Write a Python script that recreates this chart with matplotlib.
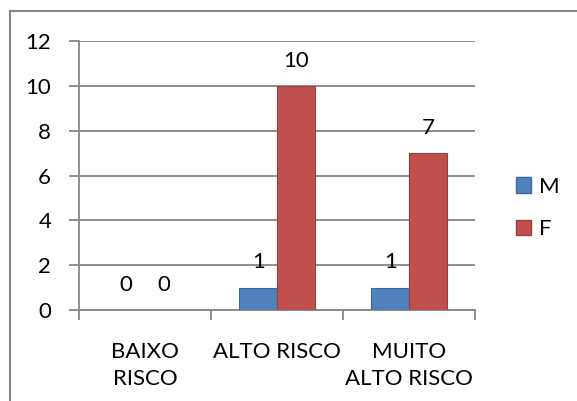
import matplotlib
matplotlib.use("Agg")
import matplotlib.pyplot as plt
from matplotlib.lines import Line2D
from matplotlib.patches import Patch
import numpy as np

categories = ["BAIXO\nRISCO", "ALTO RISCO", "MUITO\nALTO RISCO"]
series_names = ["M", "F"]
m_values = [0, 1, 1]
f_values = [0, 10, 7]
y_ticks = [0, 2, 4, 6, 8, 10, 12]

W, H = 577, 401
fig = plt.figure(figsize=(W / 100, H / 100), dpi=100)
plt.rcParams['font.family'] = ['Lato', 'DejaVu Sans']
FS = 16

# plot area: x 79..475, y 41..310 (pixels from top)
ax = fig.add_axes([79 / W, 1 - 310 / H, (475 - 79) / W, (310 - 41) / H])

x = np.arange(len(categories))
bw = 0.285
blue, blue_e = "#4F81BD", "#3A679C"
red, red_e = "#C0504D", "#963F3C"
ax.bar(x - bw / 2, m_values, bw, color=blue, edgecolor=blue_e, linewidth=0.8, zorder=3,
       label=series_names[0])
ax.bar(x + bw / 2, f_values, bw, color=red, edgecolor=red_e, linewidth=0.8, zorder=3,
       label=series_names[1])

for xi, v in zip(x, m_values):
    ax.text(xi - bw / 2, v + 0.68, str(v), ha="center", va="bottom", fontsize=FS, zorder=4)
for xi, v in zip(x, f_values):
    ax.text(xi + bw / 2, v + 0.68, str(v), ha="center", va="bottom", fontsize=FS, zorder=4)

ax.set_xlim(-0.5, len(categories) - 0.5)
ax.set_ylim(0, 12)
ax.set_yticks(y_ticks)
ax.set_yticklabels([str(t) for t in y_ticks], fontsize=FS)
ax.yaxis.grid(True, color="#868686", linewidth=1.3, zorder=0)
ax.set_axisbelow(True)

ax.set_xticks(np.arange(len(categories) + 1) - 0.5, minor=False)
ax.set_xticklabels([""] * (len(categories) + 1))
ax.set_xticks(x, minor=True)
ax.set_xticklabels(categories, minor=True, fontsize=FS, linespacing=1.45, va="top")
ax.tick_params(axis="x", which="minor", length=0, pad=23)
ax.tick_params(axis="x", which="major", length=7, width=1.3, color="#868686", direction="out")
ax.tick_params(axis="y", length=7, width=1.3, color="#868686", direction="out", pad=13)

for s in ["top", "right"]:
    ax.spines[s].set_visible(False)
for s in ["left", "bottom"]:
    ax.spines[s].set_color("#868686")
    ax.spines[s].set_linewidth(1.3)

handles = [Patch(facecolor=blue, edgecolor=blue_e, label=series_names[0]),
           Patch(facecolor=red, edgecolor=red_e, label=series_names[1])]
fig.legend(handles=handles, loc="upper left", bbox_to_anchor=(507 / W, 1 - 168 / H),
           frameon=False, fontsize=FS, handlelength=0.7, handleheight=0.7,
           handletextpad=0.35, labelspacing=1.0, borderaxespad=0)

# outer chart border (top and left visible)
fig.add_artist(Line2D([10 / W, 1], [1 - 11 / H, 1 - 11 / H], color="#868686", linewidth=1.5, transform=fig.transFigure))
fig.add_artist(Line2D([10 / W, 10 / W], [0, 1 - 11 / H], color="#868686", linewidth=1.5, transform=fig.transFigure))

fig.savefig("out.png", dpi=100, facecolor="white")
